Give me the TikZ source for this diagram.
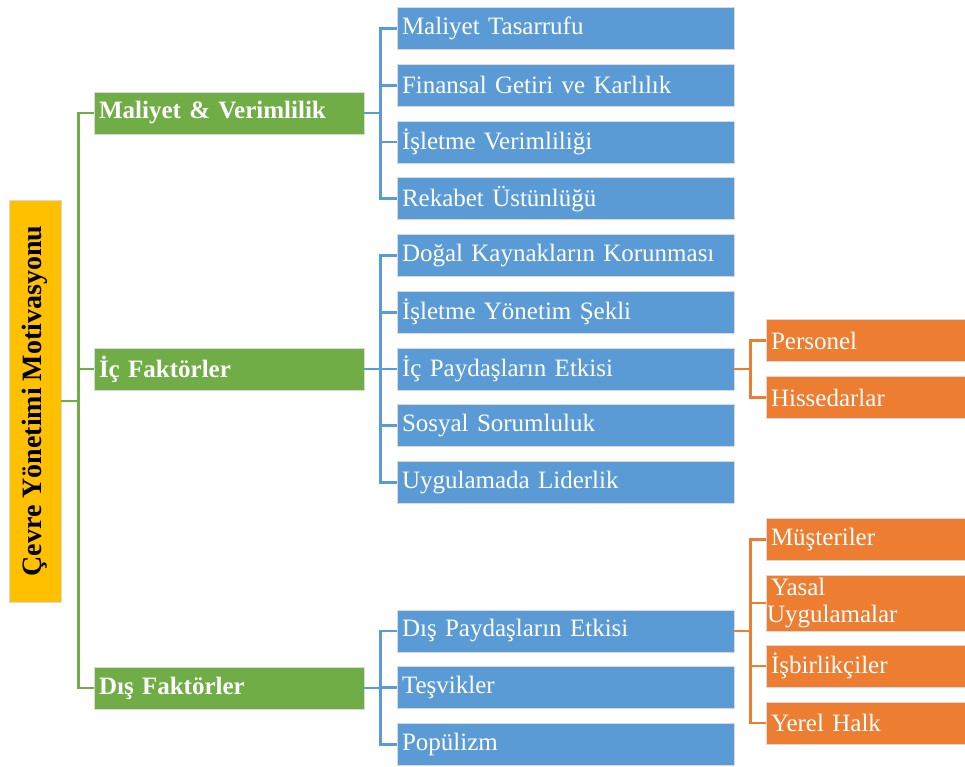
\documentclass[tikz,border=0pt]{standalone}
\usepackage{fontspec}
\setmainfont{Liberation Serif}
\usetikzlibrary{positioning}

\definecolor{rootyellow}{HTML}{FFC000}
\definecolor{catgreen}{HTML}{70AD47}
\definecolor{itemblue}{HTML}{5B9BD5}
\definecolor{suborange}{HTML}{ED7D31}

\begin{document}
\begin{tikzpicture}[x=1pt,y=-1pt,node distance=56.75pt,on grid,
    box/.style={draw=white!85!black,line width=0.8pt,text=white,align=left,
                inner xsep=5pt,inner ysep=0pt,font=\fontsize{25}{27}\selectfont},
    rootbox/.style={box,fill=rootyellow,text=black,rotate=90,align=center,
                minimum width=402pt,minimum height=52pt,
                font=\fontsize{28}{30}\selectfont\bfseries},
    cat/.style={box,fill=catgreen,minimum height=42pt,text width=260pt,
                font=\fontsize{25}{27}\selectfont\bfseries},
    item/.style={box,fill=itemblue,minimum height=42pt,text width=327pt},
    sub/.style={box,fill=suborange,minimum height=42pt,text width=189pt},
    glink/.style={draw=catgreen,line width=2.6pt},
    blink/.style={draw=itemblue,line width=2.6pt},
    olink/.style={draw=suborange,line width=2.6pt}]
  \useasboundingbox (0,0) rectangle (965,766);

  % root
  \node[rootbox] (root) at (35,401) {Çevre Yönetimi Motivasyonu};

  % categories
  \node[cat] (g1) at (229,113) {Maliyet \& Verimlilik};
  \node[cat] (g2) at (229,369) {İç Faktörler};
  \node[cat] (g3) at (229,688) {Dış Faktörler};

  % items
  \node[item] (b1) at (565.5,28.5) {Maliyet Tasarrufu};
  \node[item] (b2) [below=of b1]  {Finansal Getiri ve Karlılık};
  \node[item] (b3) [below=of b2]  {İşletme Verimliliği};
  \node[item] (b4) [below=of b3]  {Rekabet Üstünlüğü};
  \node[item] (b5) [below=of b4]  {Doğal Kaynakların Korunması};
  \node[item] (b6) [below=of b5]  {İşletme Yönetim Şekli};
  \node[item] (b7) [below=of b6]  {İç Paydaşların Etkisi};
  \node[item] (b8) [below=of b7]  {Sosyal Sorumluluk};
  \node[item] (b9) [below=of b8]  {Uygulamada Liderlik};
  \node[item] (b10) at (565.5,631) {Dış Paydaşların Etkisi};
  \node[item] (b11) [below=of b10] {Teşvikler};
  \node[item] (b12) [below=of b11] {Popülizm};

  % sub items
  \node[sub] (o1) at (865.5,340.5) {Personel};
  \node[sub] (o2) [below=57pt of o1] {Hissedarlar};
  \node[sub] (o3) at (865.5,539.5) {Müşteriler};
  \node[sub,minimum height=56pt,inner xsep=1pt,text width=197pt]
             (o4) at (865.5,603) {\hspace{4pt}Yasal\\Uygulamalar};
  \node[sub] (o5) at (865.5,666) {İşbirlikçiler};
  \node[sub] (o6) [below=57pt of o5] {Yerel Halk};

  % connectors
  \foreach \g in {g1,g2,g3}
    \draw[glink] (root.south) -- ++(17,0) |- (\g.west);
  \foreach \b in {b1,b2,b3,b4}
    \draw[blink] (g1.east) -- ++(16,0) |- (\b.west);
  \foreach \b in {b5,b6,b7,b8,b9}
    \draw[blink] (g2.east) -- ++(16,0) |- (\b.west);
  \foreach \b in {b10,b11,b12}
    \draw[blink] (g3.east) -- ++(16,0) |- (\b.west);
  \foreach \o in {o1,o2}
    \draw[olink] (b7.east) -- ++(16,0) |- (\o.west);
  \foreach \o in {o3,o4,o5,o6}
    \draw[olink] (b10.east) -- ++(16,0) |- (\o.west);
\end{tikzpicture}
\end{document}
